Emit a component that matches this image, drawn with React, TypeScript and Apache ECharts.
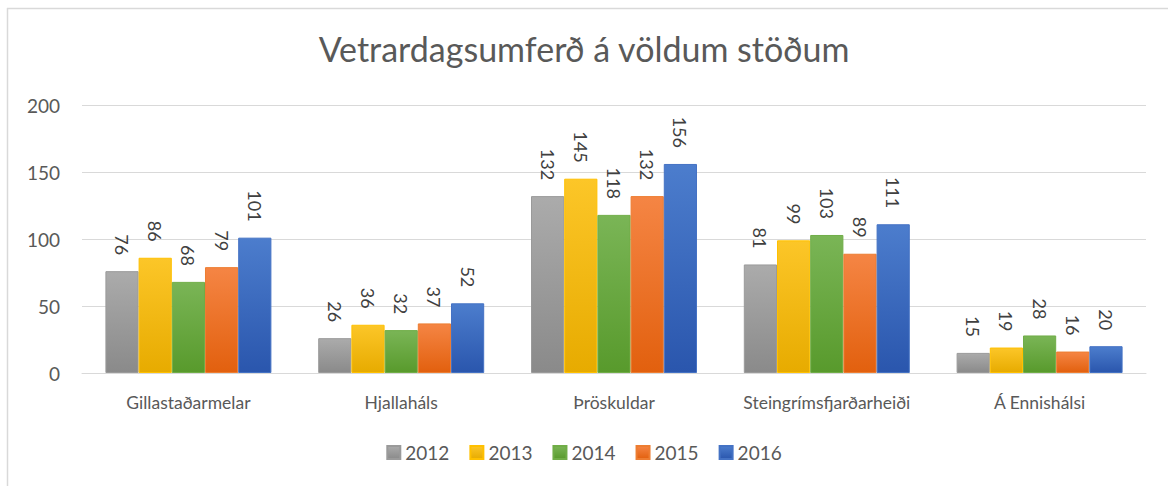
import React, { useEffect, useRef } from "react";
import * as echarts from "echarts";

const categories = ["Gillastaðarmelar", "Hjallaháls", "Þröskuldar", "Steingrímsfjarðarheiði", "Á Ennishálsi"];
const years = ["2012", "2013", "2014", "2015", "2016"];
const values2012 = [76, 26, 132, 81, 15];
const values2013 = [86, 36, 145, 99, 19];
const values2014 = [68, 32, 118, 103, 28];
const values2015 = [79, 37, 132, 89, 16];
const values2016 = [101, 52, 156, 111, 20];
const yTicks = { min: 0, max: 200, interval: 50 };

const seriesValues = [values2012, values2013, values2014, values2015, values2016];
const colorStops: [string, string, string][] = [
  ["#ababab", "#8a8a8a", "#9a9a9a"],
  ["#fcc628", "#e7ab00", "#ffc000"],
  ["#7ab556", "#589a2c", "#70ad47"],
  ["#f58544", "#e2600e", "#ed7d31"],
  ["#4c7dcd", "#2a56ad", "#4472c4"],
];

const FONT = "Lato, 'Open Sans', sans-serif";

export default function App() {
  const ref = useRef<HTMLDivElement>(null);
  useEffect(() => {
    if (!ref.current) return;
    const chart = echarts.init(ref.current, null, { renderer: "svg" });
    chart.setOption({
      animation: false,
      backgroundColor: "#ffffff",
      title: {
        text: "Vetrardagsumferð á völdum stöðum",
        left: "center",
        top: 26,
        textStyle: { fontFamily: FONT, fontSize: 34, fontWeight: "normal", color: "#595959" },
      },
      legend: {
        bottom: 19,
        left: "center",
        itemWidth: 13,
        itemHeight: 13,
        itemGap: 20,
        icon: "rect",
        textStyle: { fontFamily: FONT, fontSize: 19, color: "#595959" },
        data: years,
      },
      grid: { left: 82, right: 22, top: 105, bottom: 113 },
      xAxis: {
        type: "category",
        data: categories,
        axisLine: { lineStyle: { color: "#d9d9d9" } },
        axisTick: { show: false },
        axisLabel: { fontFamily: FONT, fontSize: 17.5, color: "#595959", margin: 20, interval: 0, hideOverlap: false },
      },
      yAxis: {
        type: "value",
        min: yTicks.min,
        max: yTicks.max,
        interval: yTicks.interval,
        axisLine: { show: false },
        axisTick: { show: false },
        splitLine: { lineStyle: { color: "#d9d9d9" } },
        axisLabel: { fontFamily: FONT, fontSize: 19, color: "#595959", margin: 22 },
      },
      graphic: [
        { type: "line", shape: { x1: 7, y1: 8.5, x2: 1168, y2: 8.5 }, style: { stroke: "#d9d9d9", lineWidth: 1.5 } },
        { type: "line", shape: { x1: 7.5, y1: 8, x2: 7.5, y2: 486 }, style: { stroke: "#d9d9d9", lineWidth: 1.5 } },
      ],
      series: years.map((y, i) => ({
        name: y,
        type: "bar",
        data: seriesValues[i],
        barGap: "0%",
        barCategoryGap: "22%",
        itemStyle: {
          color: new echarts.graphic.LinearGradient(0, 0, 0, 1, [
            { offset: 0, color: colorStops[i][0] },
            { offset: 1, color: colorStops[i][1] },
          ]),
          borderColor: colorStops[i][2],
          borderWidth: 1,
        },
        label: {
          show: true,
          position: "top",
          rotate: -90,
          align: "right",
          verticalAlign: "middle",
          distance: 16,
          fontFamily: FONT,
          fontSize: 18,
          color: "#404040",
        },
      })),
    });
    return () => chart.dispose();
  }, []);
  return <div ref={ref} style={{ position: "fixed", left: 0, top: 0, width: 1168, height: 486 }} />;
}
